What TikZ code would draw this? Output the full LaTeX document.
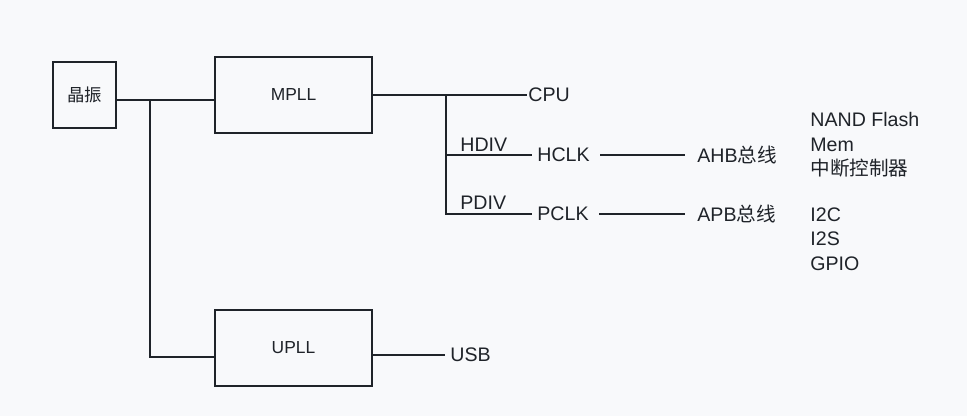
\documentclass[tikz,border=0pt]{standalone}
\usepackage{fontspec}
\setmainfont{Liberation Sans}
\newfontfamily\cjk{Noto Sans CJK SC}
\newcommand{\zh}[1]{{\cjk #1}}
\usetikzlibrary{positioning,calc}
\definecolor{bgpaper}{HTML}{F8F9FB}
\definecolor{ink}{HTML}{1F2329}

\begin{document}
\begin{tikzpicture}[
  x=0.5pt, y=-0.5pt,
  font=\fontsize{9.8}{12}\selectfont, text=ink,
  box/.style={draw=ink,line width=1pt,minimum width=78.5pt,minimum height=38pt,
              font=\fontsize{8.7}{10}\selectfont},
  wire/.style={draw=ink,line width=0.9pt},
  lbl/.style={inner sep=2.5pt,anchor=west},
  list/.style={align=left,anchor=west,inner sep=0pt,font=\fontsize{9.8}{12.25}\selectfont},
]
  \fill[bgpaper] (0,0) rectangle (967,416);
  \useasboundingbox (0,0) rectangle (967,416);

  % sources and PLLs
  \node[box, minimum width=31.5pt, minimum height=33pt] (xtal) at (84.5,95) {\zh{晶振}};
  \node[box] (mpll) at (293.5,95) {MPLL};
  \node[box] (upll) at (293.5,347.5) {UPLL};

  % clock outputs
  \node[lbl, inner xsep=0.5pt] (cpu) at (527,95) {CPU};
  \node[lbl] (hclk) at (532,155) {HCLK};
  \node[lbl] (pclk) at (532,214) {PCLK};
  \node[lbl] (ahb) at (692,155) {AHB\zh{总线}};
  \node[lbl] (apb) at (692,214) {APB\zh{总线}};
  \node[lbl] (usb) at (445,355) {USB};
  \node[lbl] (hdiv) at (455,145) {HDIV};
  \node[lbl] (pdiv) at (455,203) {PDIV};

  % devices on the buses
  \node[list] (ahbdev) at (810,145) {NAND Flash\\Mem\\\zh{中断控制器}};
  \node[list] (apbdev) at (810,239) {I2C\\I2S\\GPIO};

  \coordinate (j1) at (150,100);
  \coordinate (j2) at (150,357);
  \coordinate (j3) at (446,95);

  \draw[wire] (xtal.east |- j1) -- (mpll.west |- j1);
  \draw[wire] (j1) -- (j2) -- (upll.west |- j2);
  \draw[wire] (mpll.east) -- (cpu.west);
  \draw[wire] (j3) |- (hclk.west);
  \draw[wire] (j3) |- (pclk.west);
  \draw[wire] ($(hclk.east)+(5,0)$) -- ($(ahb.west)+(-7,0)$);
  \draw[wire] ($(pclk.east)+(5,0)$) -- ($(apb.west)+(-7,0)$);
  \draw[wire] (upll.east |- usb) -- (usb.west);
\end{tikzpicture}
\end{document}
